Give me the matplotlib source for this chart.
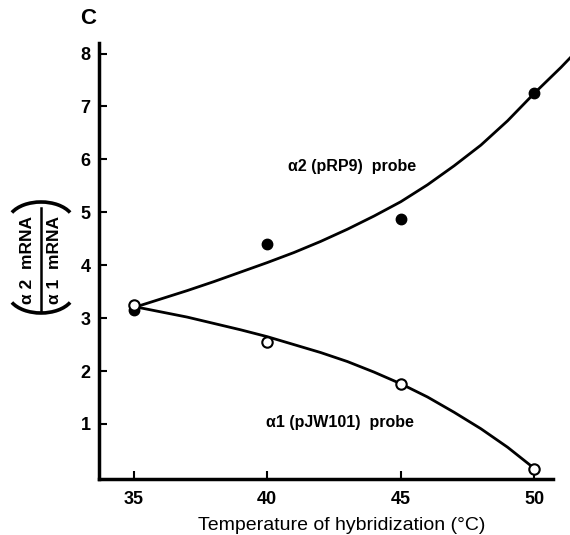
import matplotlib
matplotlib.use("Agg")
import matplotlib.pyplot as plt
from matplotlib.patches import Arc
from matplotlib.lines import Line2D

plt.rcParams['font.family'] = ['Liberation Sans', 'DejaVu Sans']

# measured data
temps = [35, 40, 45, 50]
alpha2_probe = [3.15, 4.40, 4.87, 7.25]   # filled circles
alpha1_probe = [3.25, 2.55, 1.75, 0.15]   # open circles

# fitted curves
curve2_x = [35, 36, 37, 38, 39, 40, 41, 42, 43, 44, 45, 46, 47, 48, 49, 50, 51, 51.4]
curve2_y = [3.20, 3.36, 3.52, 3.69, 3.87, 4.05, 4.24, 4.45, 4.68, 4.93, 5.20, 5.52,
            5.88, 6.27, 6.73, 7.25, 7.74, 7.95]
curve1_x = [35, 36, 37, 38, 39, 40, 41, 42, 43, 44, 45, 46, 47, 48, 49, 50]
curve1_y = [3.22, 3.12, 3.02, 2.90, 2.78, 2.65, 2.50, 2.35, 2.18, 1.98, 1.76, 1.51,
            1.22, 0.91, 0.56, 0.16]

xticks = [35, 40, 45, 50]
yticks = [1, 2, 3, 4, 5, 6, 7, 8]

W, H = 570, 535
fig = plt.figure(figsize=(W / 100, H / 100), dpi=100)
ax = fig.add_axes([99 / W, 1 - 479 / H, (553 - 99) / W, (479 - 43) / H])

ax.plot(curve2_x, curve2_y, color='black', lw=2.0, clip_on=False, zorder=2)
ax.plot(curve1_x, curve1_y, color='black', lw=2.0, clip_on=False, zorder=2)
ax.plot(temps, alpha2_probe, 'o', color='black', ms=7.5, clip_on=False, zorder=3)
ax.plot(temps, alpha1_probe, 'o', mfc='white', mec='black', mew=1.5, ms=7.5,
        clip_on=False, zorder=4)

ax.set_xlim(33.7, 50.7)
ax.set_ylim(-0.04, 8.2)
ax.set_xticks(xticks)
ax.set_yticks(yticks)
ax.set_xticklabels([str(t) for t in xticks], fontsize=13, fontweight='bold')
ax.set_yticklabels([str(t) for t in yticks], fontsize=13, fontweight='bold')
ax.tick_params(direction='in', length=6, width=1.5)
ax.tick_params(axis='x', pad=9)
ax.tick_params(axis='y', pad=6)
for s in ['top', 'right']:
    ax.spines[s].set_visible(False)
for s in ['left', 'bottom']:
    ax.spines[s].set_linewidth(2.5)

# x label
fig.text(342 / W, 1 - 525 / H, 'Temperature of hybridization (°C)', fontsize=14,
         ha='center', va='center')

# y label: ratio in parentheses
fig.text(27.5 / W, 1 - 260 / H, 'α 2  mRNA', rotation=90, fontsize=12.5,
         fontweight='bold', ha='center', va='center')
fig.text(54.5 / W, 1 - 260 / H, 'α 1  mRNA', rotation=90, fontsize=12.5,
         fontweight='bold', ha='center', va='center')
fig.add_artist(Line2D([41 / W, 41 / W], [1 - 208 / H, 1 - 312 / H],
                      transform=fig.transFigure, color='black', lw=1.8))
inch = fig.dpi_scale_trans
fig.add_artist(Arc((41 / 100, (H - 222) / 100), 66 / 100, 40 / 100, theta1=18,
                   theta2=162, transform=inch, color='black', lw=2.6))
fig.add_artist(Arc((41 / 100, (H - 293) / 100), 66 / 100, 40 / 100, theta1=198,
                   theta2=342, transform=inch, color='black', lw=2.6))

ax.text(43.16, 5.86, 'α2 (pRP9)  probe', fontsize=11.5, fontweight='bold',
        ha='center', va='center')
ax.text(42.74, 1.02, 'α1 (pJW101)  probe', fontsize=11.5, fontweight='bold',
        ha='center', va='center')

fig.text(88 / W, 1 - 19 / H, 'C', fontsize=16, fontweight='bold',
         ha='center', va='center')

fig.savefig('out.png', dpi=100)
